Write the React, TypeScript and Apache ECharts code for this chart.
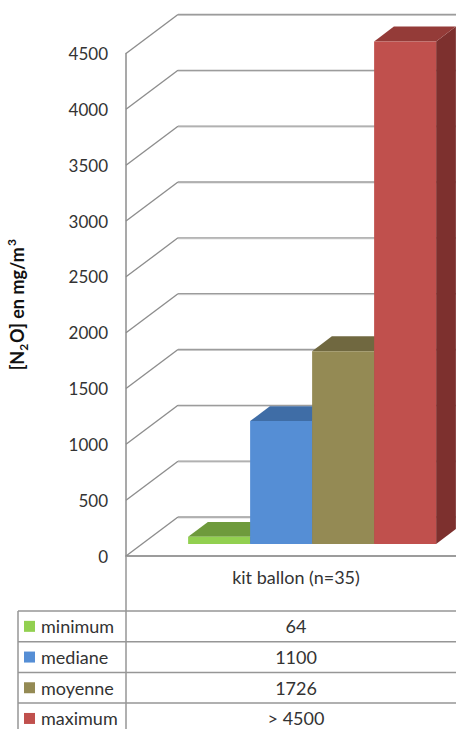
import { useEffect, useRef } from "react";
import * as echarts from "echarts";

// ---- data ----
const categories = ["kit ballon (n=35)"];
const seriesNames = ["minimum", "mediane", "moyenne", "maximum"];
const seriesValues = [64, 1100, 1726, 4500];
// the maximum lies beyond the top of the axis, so the table prints it as "> value"
const exceedsAxis = [false, false, false, true];
const yTicks = [0, 500, 1000, 1500, 2000, 2500, 3000, 3500, 4000, 4500];

// ---- look ----
const FRONT = ["#92D050", "#558ED5", "#948A54", "#C0504D"];
const TOP = ["#6E9A3C", "#3F6DA6", "#706840", "#943B38"];
const SIDE = ["#5C8232", "#345B8C", "#5C5634", "#7D302E"];
const FONT = "Lato, 'Open Sans', sans-serif";
const TEXT = "#333333";
const LINE = "#8C8C8C";

const W = 456;
const H = 729;
// front plane of the 3D box (where the value axis sits)
const GRID_LEFT = 126;
const GRID_TOP = 53.5;
const GRID_W = 340;
const GRID_H = 502.5;
// full floor depth, in screen pixels
const DEPTH_X = 52;
const DEPTH_Y = -39;
// bars occupy this slice of the depth
const BAR_T0 = 0.31;
const BAR_T1 = 0.69;
const BAR_W = 62;

// data table
const TABLE_LEFT = 18;
const TABLE_TOP = 611;
const ROW_H = 30.7;
const TABLE_FONT = 18;

function barSeries(i: number) {
  return {
    type: "custom",
    name: seriesNames[i],
    coordinateSystem: "cartesian2d",
    data: [[0, seriesValues[i]]],
    renderItem: (_params: any, api: any) => {
      const base = api.coord([api.value(0), 0]);
      const top = api.coord([api.value(0), api.value(1)]);
      const n = seriesNames.length;
      const x0 = base[0] + (i - n / 2) * BAR_W + BAR_T0 * DEPTH_X;
      const yb = base[1] + BAR_T0 * DEPTH_Y;
      const yt = top[1] + BAR_T0 * DEPTH_Y;
      const dx = (BAR_T1 - BAR_T0) * DEPTH_X;
      const dy = (BAR_T1 - BAR_T0) * DEPTH_Y;
      const x1 = x0 + BAR_W;
      return {
        type: "group",
        children: [
          {
            type: "polygon",
            shape: { points: [[x1, yb], [x1, yt], [x1 + dx, yt + dy], [x1 + dx, yb + dy]] },
            style: { fill: SIDE[i] },
          },
          {
            type: "polygon",
            shape: { points: [[x0, yt], [x1, yt], [x1 + dx, yt + dy], [x0 + dx, yt + dy]] },
            style: { fill: TOP[i] },
          },
          {
            type: "rect",
            shape: { x: x0, y: yt, width: BAR_W, height: yb - yt },
            style: { fill: FRONT[i] },
          },
        ],
      };
    },
  };
}

// back walls: each tick runs along the left wall then across the back wall
const wallSeries = {
  type: "custom",
  coordinateSystem: "cartesian2d",
  silent: true,
  data: yTicks.map((v) => [0, v]),
  renderItem: (params: any, api: any) => {
    const p = api.coord([api.value(0), api.value(1)]);
    const left = params.coordSys.x;
    const y = p[1];
    const bx = left + DEPTH_X;
    const by = y + DEPTH_Y;
    return {
      type: "group",
      children: [
        {
          type: "polyline",
          shape: { points: [[left, y], [bx, by]] },
          style: { stroke: LINE, lineWidth: 1.3, fill: null },
        },
        {
          type: "line",
          shape: { x1: bx, y1: by + 1, x2: W, y2: by + 1 },
          style: { stroke: "#D4D4D4", lineWidth: 1 },
        },
        {
          type: "line",
          shape: { x1: bx, y1: by, x2: W, y2: by },
          style: { stroke: "#9C9C9C", lineWidth: 1.3 },
        },
      ],
    };
  },
};

function tableGraphics() {
  const els: any[] = [];
  const valueX = GRID_LEFT + GRID_W / (2 * categories.length);
  const lineStyle = { stroke: "#969696", lineWidth: 1.5 };
  // vertical divider continues the value axis down through the table
  els.push({ type: "line", shape: { x1: GRID_LEFT, y1: GRID_TOP + GRID_H, x2: GRID_LEFT, y2: H }, style: lineStyle });
  els.push({ type: "line", shape: { x1: TABLE_LEFT, y1: TABLE_TOP, x2: TABLE_LEFT, y2: H }, style: lineStyle });
  seriesNames.forEach((name, i) => {
    const top = TABLE_TOP + i * ROW_H;
    const cy = top + ROW_H / 2;
    els.push({ type: "line", shape: { x1: TABLE_LEFT, y1: top, x2: W, y2: top }, style: lineStyle });
    els.push({ type: "rect", shape: { x: 24, y: cy - 5.5, width: 11, height: 11 }, style: { fill: FRONT[i] } });
    els.push({
      type: "text",
      x: 41,
      y: cy,
      style: { text: name, fill: TEXT, font: `${TABLE_FONT}px ${FONT}`, textAlign: "left", textVerticalAlign: "middle" },
    });
    const label = (exceedsAxis[i] ? "> " : "") + String(seriesValues[i]);
    els.push({
      type: "text",
      x: valueX,
      y: cy,
      style: { text: label, fill: TEXT, font: `${TABLE_FONT}px ${FONT}`, textAlign: "center", textVerticalAlign: "middle" },
    });
  });
  return els.map((e) => ({ ...e, silent: true }));
}

const TITLE_COLOR = "#111111";

const option: any = {
  animation: false,
  backgroundColor: "#ffffff",
  grid: {
    left: GRID_LEFT,
    top: GRID_TOP,
    width: GRID_W,
    height: GRID_H,
    containLabel: false,
    outerBoundsMode: "none",
  },
  xAxis: {
    type: "category",
    data: categories,
    axisLine: { show: true, lineStyle: { color: "#9C9C9C", width: 2 } },
    axisTick: { show: false },
    axisLabel: { color: TEXT, fontFamily: FONT, fontSize: TABLE_FONT, margin: 12 },
    splitLine: { show: false },
  },
  yAxis: {
    type: "value",
    min: 0,
    max: 4500,
    interval: 500,
    axisLine: { show: true, lineStyle: { color: LINE, width: 1.5 } },
    axisTick: { show: false },
    splitLine: { show: false },
    axisLabel: {
      color: TEXT,
      fontFamily: FONT,
      fontSize: 17,
      margin: 18,
      padding: [6, 0, 0, 0],
      formatter: (v: number) => String(v),
    },
    name: "{a|[N}{s|2}{a|O] en mg/m}{p|3}",
    nameLocation: "middle",
    nameRotate: 90,
    nameGap: 97,
    nameTextStyle: {
      rich: {
        a: { fontFamily: FONT, fontWeight: "bold", fontSize: 18, color: TITLE_COLOR, lineHeight: 24 },
        s: { fontFamily: FONT, fontWeight: "bold", fontSize: 12, color: TITLE_COLOR, verticalAlign: "bottom", lineHeight: 24, padding: [0, 1, 0, 0] },
        p: { fontFamily: FONT, fontWeight: "bold", fontSize: 12, color: TITLE_COLOR, verticalAlign: "top", lineHeight: 24, padding: [0, 0, 0, 1] },
      },
    },
  },
  series: [wallSeries, ...seriesNames.map((_, i) => barSeries(i))],
  graphic: tableGraphics(),
};

export default function App() {
  const ref = useRef<HTMLDivElement>(null);
  useEffect(() => {
    if (!ref.current) return;
    const chart = echarts.init(ref.current, null, { renderer: "svg" });
    chart.setOption(option);
    return () => chart.dispose();
  }, []);
  return (
    <div
      ref={ref}
      style={{ position: "fixed", left: 0, top: 0, width: W, height: H, background: "#fff", overflow: "hidden" }}
    />
  );
}
